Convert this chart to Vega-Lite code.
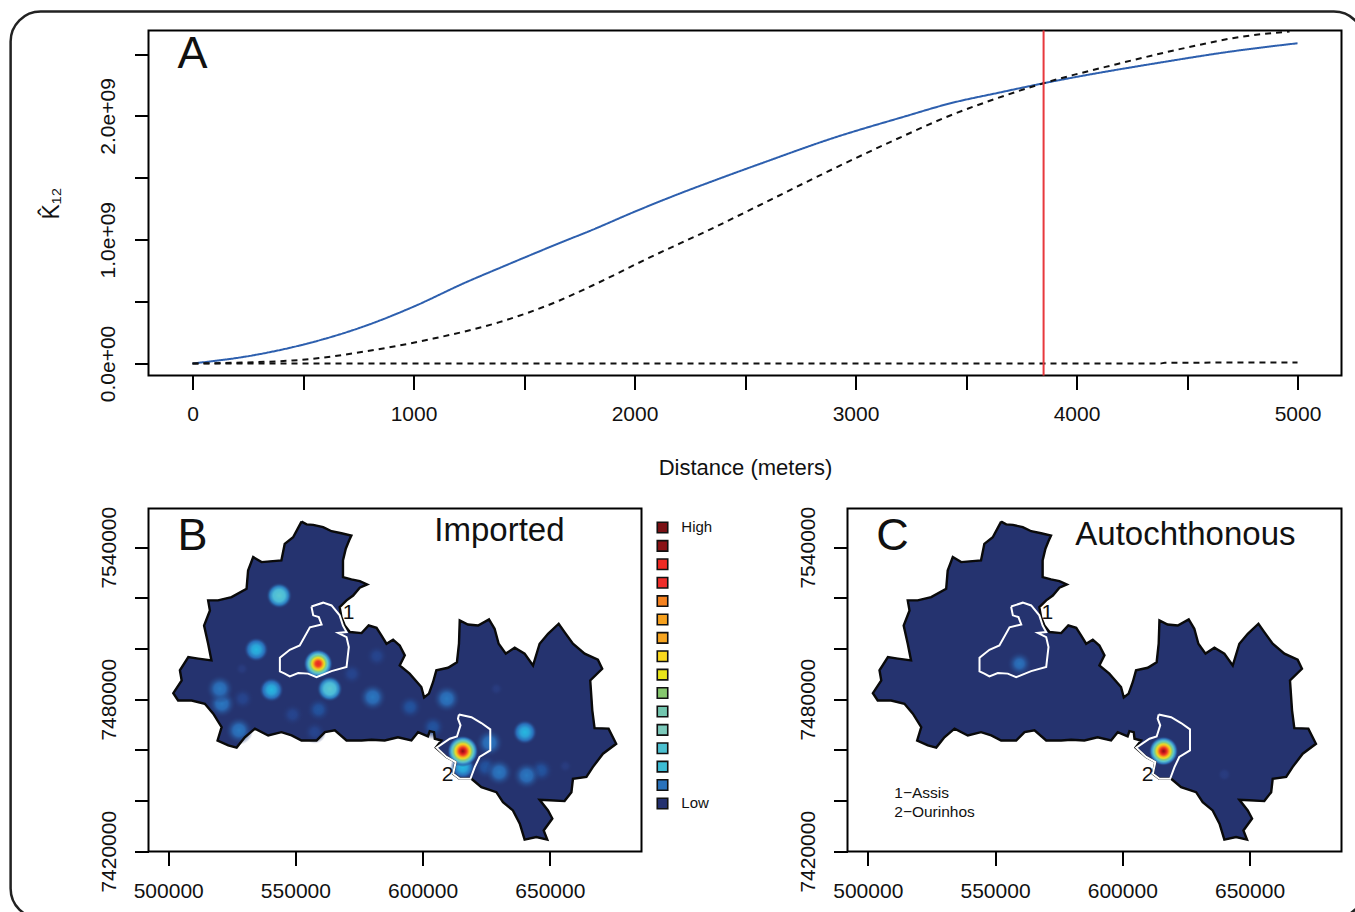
{
"$schema":"https://vega.github.io/schema/vega-lite/v6.json",
"padding":{"left":7.5,"top":8.5,"right":0,"bottom":0},
"background":"white",
"bounds":"flush",
"spacing":133,
"config":{
 "view":{"stroke":"black","strokeWidth":2},
 "font":"Liberation Sans",
 "axis":{"grid":false,"domain":false,"tickColor":"black","tickWidth":2,"tickSize":14,"labelFont":"Liberation Sans","labelFontSize":21,"labelColor":"#111","labelOverlap":false,"labelBound":false,"labelFlush":false,"titleFont":"Liberation Sans","titleFontWeight":"normal","titleColor":"#111"},
 "text":{"font":"Liberation Sans","color":"#111"}
},
"datasets":{
"boundary":[
{"i":1,"x":552400,"y":7550100},{"i":2,"x":554400,"y":7549000},{"i":3,"x":557000,"y":7548800},{"i":4,"x":560900,"y":7547900},{"i":5,"x":564200,"y":7546300},{"i":6,"x":568100,"y":7545500},{"i":7,"x":572000,"y":7544600},{"i":8,"x":571100,"y":7542600},{"i":9,"x":569800,"y":7539400},{"i":10,"x":568700,"y":7534800},{"i":11,"x":568700,"y":7528200},{"i":12,"x":572000,"y":7527300},{"i":13,"x":575300,"y":7526600},{"i":14,"x":578200,"y":7525300},{"i":15,"x":575300,"y":7524000},{"i":16,"x":572700,"y":7520900},{"i":17,"x":570100,"y":7519000},{"i":18,"x":567400,"y":7516300},{"i":19,"x":568100,"y":7512400},{"i":20,"x":569400,"y":7509100},{"i":21,"x":571400,"y":7506500},{"i":22,"x":576000,"y":7506100},{"i":23,"x":578800,"y":7509100},{"i":24,"x":581900,"y":7508200},{"i":25,"x":583800,"y":7505200},{"i":26,"x":585800,"y":7501900},{"i":27,"x":588400,"y":7503500},{"i":28,"x":591000,"y":7501200},{"i":29,"x":593000,"y":7497300},{"i":30,"x":591000,"y":7493300},{"i":31,"x":594900,"y":7490100},{"i":32,"x":599500,"y":7484800},{"i":33,"x":600600,"y":7480700},{"i":34,"x":602500,"y":7482200},{"i":35,"x":604100,"y":7486700},{"i":36,"x":605400,"y":7491400},{"i":37,"x":610000,"y":7492400},{"i":38,"x":613500,"y":7494600},{"i":39,"x":614300,"y":7501900},{"i":40,"x":614600,"y":7511100},{"i":41,"x":617800,"y":7509500},{"i":42,"x":621800,"y":7509100},{"i":43,"x":626100,"y":7511500},{"i":44,"x":628300,"y":7507800},{"i":45,"x":629900,"y":7501900},{"i":46,"x":632700,"y":7498000},{"i":47,"x":636200,"y":7500300},{"i":48,"x":640100,"y":7498000},{"i":49,"x":643400,"y":7493300},{"i":50,"x":646000,"y":7501900},{"i":51,"x":649300,"y":7505800},{"i":52,"x":653500,"y":7509800},{"i":53,"x":655800,"y":7506500},{"i":54,"x":659100,"y":7501900},{"i":55,"x":663700,"y":7498000},{"i":56,"x":668900,"y":7495600},{"i":57,"x":670600,"y":7492000},{"i":58,"x":665900,"y":7487400},{"i":59,"x":666700,"y":7475600},{"i":60,"x":667600,"y":7468600},{"i":61,"x":673100,"y":7468400},{"i":62,"x":676100,"y":7462400},{"i":63,"x":670900,"y":7458500},{"i":64,"x":666900,"y":7453200},{"i":65,"x":664400,"y":7449300},{"i":66,"x":659100,"y":7448600},{"i":67,"x":658500,"y":7443300},{"i":68,"x":655800,"y":7439800},{"i":69,"x":649900,"y":7440100},{"i":70,"x":646000,"y":7440300},{"i":71,"x":649300,"y":7436100},{"i":72,"x":651000,"y":7432900},{"i":73,"x":647600,"y":7428200},{"i":74,"x":649000,"y":7424600},{"i":75,"x":644700,"y":7425600},{"i":76,"x":640100,"y":7424600},{"i":77,"x":638200,"y":7430900},{"i":78,"x":635500,"y":7436100},{"i":79,"x":631600,"y":7439400},{"i":80,"x":629000,"y":7443300},{"i":81,"x":623100,"y":7445300},{"i":82,"x":619200,"y":7448600},{"i":83,"x":614600,"y":7448600},{"i":84,"x":612000,"y":7450600},{"i":85,"x":613000,"y":7455200},{"i":86,"x":609400,"y":7457200},{"i":87,"x":605200,"y":7460900},{"i":88,"x":607400,"y":7463700},{"i":89,"x":604800,"y":7464400},{"i":90,"x":604500,"y":7467000},{"i":91,"x":602800,"y":7467400},{"i":92,"x":602100,"y":7465300},{"i":93,"x":598200,"y":7467000},{"i":94,"x":595600,"y":7463700},{"i":95,"x":590300,"y":7465000},{"i":96,"x":585100,"y":7463700},{"i":97,"x":579900,"y":7464000},{"i":98,"x":576000,"y":7463700},{"i":99,"x":570100,"y":7463700},{"i":100,"x":565500,"y":7467700},{"i":101,"x":561600,"y":7467000},{"i":102,"x":558300,"y":7463700},{"i":103,"x":552400,"y":7463700},{"i":104,"x":548500,"y":7465700},{"i":105,"x":544500,"y":7467000},{"i":106,"x":539300,"y":7465700},{"i":107,"x":534100,"y":7468400},{"i":108,"x":530100,"y":7465000},{"i":109,"x":526900,"y":7460900},{"i":110,"x":523600,"y":7461800},{"i":111,"x":519400,"y":7463700},{"i":112,"x":521000,"y":7469000},{"i":113,"x":517700,"y":7474300},{"i":114,"x":514400,"y":7478200},{"i":115,"x":509200,"y":7479500},{"i":116,"x":503900,"y":7479500},{"i":117,"x":502000,"y":7482400},{"i":118,"x":505300,"y":7487400},{"i":119,"x":504600,"y":7491400},{"i":120,"x":507900,"y":7496600},{"i":121,"x":511800,"y":7496000},{"i":122,"x":517000,"y":7495300},{"i":123,"x":515700,"y":7501900},{"i":124,"x":514100,"y":7509100},{"i":125,"x":516400,"y":7515000},{"i":126,"x":515700,"y":7519000},{"i":127,"x":519600,"y":7519000},{"i":128,"x":524900,"y":7520300},{"i":129,"x":530800,"y":7523600},{"i":130,"x":531400,"y":7530800},{"i":131,"x":533400,"y":7536100},{"i":132,"x":536700,"y":7534100},{"i":133,"x":544500,"y":7534800},{"i":134,"x":545800,"y":7541300},{"i":135,"x":549100,"y":7543900},{"i":136,"x":552400,"y":7550100}
],
"towns":[
{"town":"Assis","i":1,"x":556300,"y":7516600},{"town":"Assis","i":2,"x":560900,"y":7518100},{"town":"Assis","i":3,"x":564200,"y":7517000},{"town":"Assis","i":4,"x":567400,"y":7513100},{"town":"Assis","i":5,"x":568700,"y":7509100},{"town":"Assis","i":6,"x":570100,"y":7506500},{"town":"Assis","i":7,"x":566800,"y":7506200},{"town":"Assis","i":8,"x":570100,"y":7504500},{"town":"Assis","i":9,"x":571000,"y":7500600},{"town":"Assis","i":10,"x":570100,"y":7492700},{"town":"Assis","i":11,"x":564200,"y":7491100},{"town":"Assis","i":12,"x":558300,"y":7488700},{"town":"Assis","i":13,"x":555000,"y":7490100},{"town":"Assis","i":14,"x":551100,"y":7490300},{"town":"Assis","i":15,"x":547800,"y":7489000},{"town":"Assis","i":16,"x":545800,"y":7490100},{"town":"Assis","i":17,"x":543900,"y":7491000},{"town":"Assis","i":18,"x":543900,"y":7496400},{"town":"Assis","i":19,"x":547800,"y":7499500},{"town":"Assis","i":20,"x":551700,"y":7501200},{"town":"Assis","i":21,"x":555700,"y":7508400},{"town":"Assis","i":22,"x":560300,"y":7509500},{"town":"Assis","i":23,"x":559200,"y":7512400},{"town":"Assis","i":24,"x":557000,"y":7513100},{"town":"Assis","i":25,"x":556300,"y":7516600},
{"town":"Ourinhos","i":1,"x":614300,"y":7474000},{"town":"Ourinhos","i":2,"x":619200,"y":7472900},{"town":"Ourinhos","i":3,"x":623100,"y":7470600},{"town":"Ourinhos","i":4,"x":626600,"y":7468100},{"town":"Ourinhos","i":5,"x":626600,"y":7459800},{"town":"Ourinhos","i":6,"x":622400,"y":7457200},{"town":"Ourinhos","i":7,"x":620500,"y":7453200},{"town":"Ourinhos","i":8,"x":618800,"y":7448600},{"town":"Ourinhos","i":9,"x":614600,"y":7448600},{"town":"Ourinhos","i":10,"x":612000,"y":7450600},{"town":"Ourinhos","i":11,"x":613000,"y":7455200},{"town":"Ourinhos","i":12,"x":609400,"y":7457200},{"town":"Ourinhos","i":13,"x":605500,"y":7460900},{"town":"Ourinhos","i":14,"x":610700,"y":7464400},{"town":"Ourinhos","i":15,"x":613500,"y":7465300},{"town":"Ourinhos","i":16,"x":614900,"y":7469700},{"town":"Ourinhos","i":17,"x":613900,"y":7472300},{"town":"Ourinhos","i":18,"x":614300,"y":7474000}
],
"hotspots":[
{"panel":"B","kind":"trace","x":529000,"y":7492000},{"panel":"B","kind":"trace","x":629000,"y":7484100},{"panel":"B","kind":"trace","x":656100,"y":7453600},
{"panel":"B","kind":"faint","x":529300,"y":7480200},{"panel":"B","kind":"faint","x":548900,"y":7473900},{"panel":"B","kind":"faint","x":557600,"y":7467000},{"panel":"B","kind":"faint","x":582000,"y":7497000},{"panel":"B","kind":"faint","x":572200,"y":7490000},
{"panel":"B","kind":"dark","x":595100,"y":7476900},{"panel":"B","kind":"dark","x":559100,"y":7475900},{"panel":"B","kind":"dark","x":604100,"y":7469000},{"panel":"B","kind":"dark","x":624800,"y":7453200},{"panel":"B","kind":"dark","x":646600,"y":7451900},
{"panel":"B","kind":"blue","x":521100,"y":7478200},{"panel":"B","kind":"blue","x":520300,"y":7484100},{"panel":"B","kind":"blue","x":527800,"y":7467700},{"panel":"B","kind":"blue","x":580400,"y":7480800},{"panel":"B","kind":"blue","x":609500,"y":7480200},{"panel":"B","kind":"blue","x":626300,"y":7462800},{"panel":"B","kind":"blue","x":630100,"y":7451200},{"panel":"B","kind":"blue","x":640900,"y":7449900},
{"panel":"B","kind":"teal","x":543600,"y":7520900},{"panel":"B","kind":"teal","x":563500,"y":7484100},
{"panel":"B","kind":"cyan","x":534600,"y":7499600},{"panel":"B","kind":"cyan","x":540600,"y":7483700},{"panel":"B","kind":"cyan","x":640200,"y":7467000},{"panel":"B","kind":"cyan","x":615800,"y":7453200},
{"panel":"B","kind":"warm","x":558950,"y":7494000},{"panel":"B","kind":"hot","x":615800,"y":7459500},
{"panel":"C","kind":"trace","x":640100,"y":7450300},{"panel":"C","kind":"blue","x":559600,"y":7494000},{"panel":"C","kind":"hot","x":616200,"y":7459500}
],
"levels":[{"level":16,"x":694300,"y":7547770},{"level":15,"x":694300,"y":7540510},{"level":14,"x":694300,"y":7533250},{"level":13,"x":694300,"y":7525990},{"level":12,"x":694300,"y":7518730},{"level":11,"x":694300,"y":7511470},{"level":10,"x":694300,"y":7504210},{"level":9,"x":694300,"y":7496950},{"level":8,"x":694300,"y":7489690},{"level":7,"x":694300,"y":7482430},{"level":6,"x":694300,"y":7475170},{"level":5,"x":694300,"y":7467910},{"level":4,"x":694300,"y":7460650},{"level":3,"x":694300,"y":7453390},{"level":2,"x":694300,"y":7446130},{"level":1,"x":694300,"y":7438870}]
},
"vconcat":[
{
 "width":1193,"height":345,
 "layer":[
  {"data":{"values":[{"x":-823,"x2":5300,"y":2843000000,"y2":-4483000000}]},
   "mark":{"type":"rect","filled":false,"stroke":"#222","strokeWidth":2.5,"cornerRadius":30,"clip":false},
   "encoding":{
    "x":{"field":"x","type":"quantitative","scale":{"domain":[-199.1,5199],"nice":false,"zero":false},
     "axis":{"values":[0,500,1000,1500,2000,2500,3000,3500,4000,4500,5000],"format":"d","labelExpr":"datum.value%1000==0?datum.label:''","labelPadding":14,"title":"Distance (meters)","titleFontSize":22,"titlePadding":33}},
    "x2":{"field":"x2"},
    "y":{"field":"y","type":"quantitative","scale":{"domain":[-97000000,2690000000],"nice":false,"zero":false},
     "axis":{"values":[0,500000000,1000000000,1500000000,2000000000,2500000000],"labelExpr":"datum.value==0?'0.0e+00':datum.value==1000000000?'1.0e+09':datum.value==2000000000?'2.0e+09':''","labelAngle":-90,"labelPadding":16,"title":"K̂₁₂","titleFontSize":23,"titlePadding":34}},
    "y2":{"field":"y2"}}},
  {"data":{"values":[
   {"series":"observed","x":0,"y":0},{"series":"observed","x":271,"y":65000000},{"series":"observed","x":484,"y":145000000},{"series":"observed","x":787,"y":307000000},{"series":"observed","x":995,"y":455000000},{"series":"observed","x":1240,"y":658000000},{"series":"observed","x":1389,"y":771000000},{"series":"observed","x":1661,"y":973000000},{"series":"observed","x":1810,"y":1080000000},{"series":"observed","x":1995,"y":1222000000},{"series":"observed","x":2186,"y":1360000000},{"series":"observed","x":2385,"y":1494000000},{"series":"observed","x":2579,"y":1620000000},{"series":"observed","x":2900,"y":1822000000},{"series":"observed","x":3222,"y":1995000000},{"series":"observed","x":3425,"y":2100000000},{"series":"observed","x":3652,"y":2189000000},{"series":"observed","x":3851,"y":2264000000},{"series":"observed","x":4389,"y":2434000000},{"series":"observed","x":4710,"y":2523000000},{"series":"observed","x":5000,"y":2587000000},
   {"series":"upper","x":0,"y":0},{"series":"upper","x":452,"y":24000000},{"series":"upper","x":787,"y":99000000},{"series":"upper","x":1086,"y":200000000},{"series":"upper","x":1389,"y":334000000},{"series":"upper","x":1661,"y":509000000},{"series":"upper","x":1810,"y":630000000},{"series":"upper","x":2072,"y":859000000},{"series":"upper","x":2348,"y":1088000000},{"series":"upper","x":2624,"y":1330000000},{"series":"upper","x":2900,"y":1573000000},{"series":"upper","x":3222,"y":1842000000},{"series":"upper","x":3403,"y":1985000000},{"series":"upper","x":3633,"y":2138000000},{"series":"upper","x":3851,"y":2264000000},{"series":"upper","x":4186,"y":2420000000},{"series":"upper","x":4507,"y":2555000000},{"series":"upper","x":4733,"y":2636000000},{"series":"upper","x":4964,"y":2682000000},
   {"series":"lower","x":0,"y":0},{"series":"lower","x":2000,"y":0},{"series":"lower","x":4380,"y":0},{"series":"lower","x":4400,"y":6000000},{"series":"lower","x":5000,"y":8000000}
   ]},
   "mark":{"type":"line","strokeWidth":2,"interpolate":"monotone"},
   "encoding":{
    "x":{"field":"x","type":"quantitative"},
    "y":{"field":"y","type":"quantitative"},
    "color":{"field":"series","type":"nominal","legend":null,"scale":{"domain":["observed","upper","lower"],"range":["#2d5fae","#111111","#111111"]}},
    "strokeDash":{"field":"series","type":"nominal","legend":null,"scale":{"domain":["observed","upper","lower"],"range":[[1,0],[6,5],[6,5]]}}}},
  {"data":{"values":[{"x":3851}]},
   "mark":{"type":"rule","color":"#e8383d","strokeWidth":2},
   "encoding":{"x":{"field":"x","type":"quantitative"}}},
  {"data":{"values":[{"x":0,"y":2504000000,"label":"A"}]},
   "mark":{"type":"text","fontSize":45,"align":"center","baseline":"middle"},
   "encoding":{"x":{"field":"x","type":"quantitative"},"y":{"field":"y","type":"quantitative"},"text":{"field":"label"}}}
 ]
},
{
 "bounds":"flush",
 "spacing":206,
 "hconcat":[
 {
  "width":493,"height":343,
  "encoding":{
    "x":{"field":"x","type":"quantitative","scale":{"domain":[492256,686046],"nice":false,"zero":false},"axis":{"values":[500000,550000,600000,650000],"format":"d","labelPadding":15,"title":null}},
    "y":{"field":"y","type":"quantitative","scale":{"domain":[7419900,7555266],"nice":false,"zero":false},"axis":{"values":[7420000,7440000,7460000,7480000,7500000,7520000,7540000],"format":"d","labelExpr":"(datum.value==7420000||datum.value==7480000||datum.value==7540000)?datum.label:''","labelAngle":-90,"labelPadding":15,"title":null}}
  },
  "layer":[
   {"data":{"name":"levels"},"mark":{"type":"square","filled":true,"size":110,"stroke":"#111","strokeWidth":1.6,"opacity":1,"clip":false},
    "encoding":{"fill":{"field":"level","type":"ordinal","legend":null,
     "scale":{"domain":[16,15,14,13,12,11,10,9,8,7,6,5,4,3,2,1],"range":["#7a1014","#8a1216","#ee2a24","#ee2d2a","#f58220","#f5a01e","#f7a521","#fbd91e","#e8e51a","#86c86e","#72c5ae","#7ccabb","#4cc0d0","#3cbcd4","#2a72bb","#23306f"]}}}},
   {"data":{"values":[{"x":701700,"y":7547770,"label":"High"},{"x":701700,"y":7438870,"label":"Low"}]},"mark":{"type":"text","fontSize":15,"align":"left","baseline":"middle","clip":false},"encoding":{"text":{"field":"label"}}},
   {"data":{"name":"boundary"},"mark":{"type":"line","fill":"#25336f","stroke":"#25336f","strokeWidth":1},"encoding":{"order":{"field":"i","type":"quantitative"}}},
   {"data":{"name":"hotspots"},"transform":[{"filter":"datum.panel=='B'&&datum.kind=='trace'"}],"mark":{"type":"point","filled":true,"opacity":1,"size":200,"fill":{"gradient":"radial","x1":0.5,"y1":0.5,"x2":0.5,"y2":0.5,"r1":0,"r2":0.5,"stops":[{"offset":0,"color":"#293c80"},{"offset":0.4,"color":"#283a7c"},{"offset":1,"color":"rgba(37,51,111,0)"}]}}},
   {"data":{"name":"hotspots"},"transform":[{"filter":"datum.panel=='B'&&datum.kind=='faint'"}],"mark":{"type":"point","filled":true,"opacity":1,"size":520,"fill":{"gradient":"radial","x1":0.5,"y1":0.5,"x2":0.5,"y2":0.5,"r1":0,"r2":0.5,"stops":[{"offset":0,"color":"#26458f"},{"offset":0.35,"color":"#264289"},{"offset":1,"color":"rgba(37,51,111,0)"}]}}},
   {"data":{"name":"hotspots"},"transform":[{"filter":"datum.panel=='B'&&datum.kind=='dark'"}],"mark":{"type":"point","filled":true,"opacity":1,"size":620,"fill":{"gradient":"radial","x1":0.5,"y1":0.5,"x2":0.5,"y2":0.5,"r1":0,"r2":0.5,"stops":[{"offset":0,"color":"#22559f"},{"offset":0.35,"color":"#234e98"},{"offset":1,"color":"rgba(37,51,111,0)"}]}}},
   {"data":{"name":"hotspots"},"transform":[{"filter":"datum.panel=='B'&&datum.kind=='blue'"}],"mark":{"type":"point","filled":true,"opacity":1,"size":820,"fill":{"gradient":"radial","x1":0.5,"y1":0.5,"x2":0.5,"y2":0.5,"r1":0,"r2":0.5,"stops":[{"offset":0,"color":"#2a78c0"},{"offset":0.4,"color":"#2a69b3"},{"offset":1,"color":"rgba(37,51,111,0)"}]}}},
   {"data":{"name":"hotspots"},"transform":[{"filter":"datum.panel=='B'&&datum.kind=='teal'"}],"mark":{"type":"point","filled":true,"opacity":1,"size":680,"fill":{"gradient":"radial","x1":0.5,"y1":0.5,"x2":0.5,"y2":0.5,"r1":0,"r2":0.5,"stops":[{"offset":0,"color":"#5cc8d0"},{"offset":0.45,"color":"#4cbcd8"},{"offset":0.72,"color":"#2b7cc0"},{"offset":1,"color":"rgba(37,51,111,0)"}]}}},
   {"data":{"name":"hotspots"},"transform":[{"filter":"datum.panel=='B'&&datum.kind=='cyan'"}],"mark":{"type":"point","filled":true,"opacity":1,"size":620,"fill":{"gradient":"radial","x1":0.5,"y1":0.5,"x2":0.5,"y2":0.5,"r1":0,"r2":0.5,"stops":[{"offset":0,"color":"#25b8e0"},{"offset":0.35,"color":"#2ba4d8"},{"offset":0.68,"color":"#2a6cb8"},{"offset":1,"color":"rgba(37,51,111,0)"}]}}},
   {"data":{"name":"hotspots"},"transform":[{"filter":"datum.panel=='B'&&datum.kind=='warm'"}],"mark":{"type":"point","filled":true,"opacity":1,"size":860,"fill":{"gradient":"radial","x1":0.5,"y1":0.5,"x2":0.5,"y2":0.5,"r1":0,"r2":0.5,"stops":[{"offset":0,"color":"#e8261f"},{"offset":0.18,"color":"#ef3b24"},{"offset":0.32,"color":"#f7a520"},{"offset":0.42,"color":"#e9e020"},{"offset":0.52,"color":"#8ccb78"},{"offset":0.65,"color":"#5cc7cf"},{"offset":0.82,"color":"#2f78c0"},{"offset":1,"color":"rgba(37,51,111,0)"}]}}},
   {"data":{"name":"hotspots"},"transform":[{"filter":"datum.panel=='B'&&datum.kind=='hot'"}],"mark":{"type":"point","filled":true,"opacity":1,"size":960,"fill":{"gradient":"radial","x1":0.5,"y1":0.5,"x2":0.5,"y2":0.5,"r1":0,"r2":0.5,"stops":[{"offset":0,"color":"#7f0f14"},{"offset":0.13,"color":"#c8151b"},{"offset":0.25,"color":"#ef3b24"},{"offset":0.38,"color":"#f7a520"},{"offset":0.48,"color":"#f0e020"},{"offset":0.58,"color":"#8ccb78"},{"offset":0.7,"color":"#5cc7cf"},{"offset":0.85,"color":"#2f78c0"},{"offset":1,"color":"rgba(37,51,111,0)"}]}}},
   {"data":{"name":"boundary"},"mark":{"type":"line","stroke":"#0a0a0a","strokeWidth":2.4},"encoding":{"order":{"field":"i","type":"quantitative"}}},
   {"data":{"name":"towns"},"mark":{"type":"line","stroke":"white","strokeWidth":2},"encoding":{"detail":{"field":"town"},"order":{"field":"i","type":"quantitative"}}},
   {"data":{"values":[{"x":509550,"y":7544600,"label":"B"}]},"mark":{"type":"text","fontSize":45,"align":"center","baseline":"middle"},"encoding":{"text":{"field":"label"}}},
   {"data":{"values":[{"x":630200,"y":7546200,"label":"Imported"}]},"mark":{"type":"text","fontSize":33,"align":"center","baseline":"middle"},"encoding":{"text":{"field":"label"}}},
   {"data":{"values":[{"x":570900,"y":7514200,"label":"1"},{"x":609800,"y":7449900,"label":"2"}]},"mark":{"type":"text","fontSize":21,"align":"center","baseline":"middle"},"encoding":{"text":{"field":"label"}}}
  ]
 },
 {
  "width":494,"height":343,
  "encoding":{
    "x":{"field":"x","type":"quantitative","scale":{"domain":[492027,686135],"nice":false,"zero":false},"axis":{"values":[500000,550000,600000,650000],"format":"d","labelPadding":15,"title":null}},
    "y":{"field":"y","type":"quantitative","scale":{"domain":[7419900,7555266],"nice":false,"zero":false},"axis":{"values":[7420000,7440000,7460000,7480000,7500000,7520000,7540000],"format":"d","labelExpr":"(datum.value==7420000||datum.value==7480000||datum.value==7540000)?datum.label:''","labelAngle":-90,"labelPadding":15,"title":null}}
  },
  "layer":[
   {"data":{"name":"boundary"},"mark":{"type":"line","fill":"#25336f","stroke":"#25336f","strokeWidth":1},"encoding":{"order":{"field":"i","type":"quantitative"}}},
   {"data":{"name":"hotspots"},"transform":[{"filter":"datum.panel=='C'&&datum.kind=='trace'"}],"mark":{"type":"point","filled":true,"opacity":1,"size":200,"fill":{"gradient":"radial","x1":0.5,"y1":0.5,"x2":0.5,"y2":0.5,"r1":0,"r2":0.5,"stops":[{"offset":0,"color":"#293c80"},{"offset":0.5,"color":"#283a7c"},{"offset":1,"color":"rgba(37,51,111,0)"}]}}},
   {"data":{"name":"hotspots"},"transform":[{"filter":"datum.panel=='C'&&datum.kind=='blue'"}],"mark":{"type":"point","filled":true,"opacity":1,"size":640,"fill":{"gradient":"radial","x1":0.5,"y1":0.5,"x2":0.5,"y2":0.5,"r1":0,"r2":0.5,"stops":[{"offset":0,"color":"#2a74bc"},{"offset":0.35,"color":"#2a66b0"},{"offset":1,"color":"rgba(37,51,111,0)"}]}}},
   {"data":{"name":"hotspots"},"transform":[{"filter":"datum.panel=='C'&&datum.kind=='hot'"}],"mark":{"type":"point","filled":true,"opacity":1,"size":860,"fill":{"gradient":"radial","x1":0.5,"y1":0.5,"x2":0.5,"y2":0.5,"r1":0,"r2":0.5,"stops":[{"offset":0,"color":"#7f0f14"},{"offset":0.13,"color":"#c8151b"},{"offset":0.25,"color":"#ef3b24"},{"offset":0.38,"color":"#f7a520"},{"offset":0.48,"color":"#f0e020"},{"offset":0.58,"color":"#8ccb78"},{"offset":0.7,"color":"#5cc7cf"},{"offset":0.85,"color":"#2f78c0"},{"offset":1,"color":"rgba(37,51,111,0)"}]}}},
   {"data":{"name":"boundary"},"mark":{"type":"line","stroke":"#0a0a0a","strokeWidth":2.4},"encoding":{"order":{"field":"i","type":"quantitative"}}},
   {"data":{"name":"towns"},"mark":{"type":"line","stroke":"white","strokeWidth":2},"encoding":{"detail":{"field":"town"},"order":{"field":"i","type":"quantitative"}}},
   {"data":{"values":[{"x":509700,"y":7544600,"label":"C"}]},"mark":{"type":"text","fontSize":45,"align":"center","baseline":"middle"},"encoding":{"text":{"field":"label"}}},
   {"data":{"values":[{"x":624800,"y":7545000,"label":"Autochthonous"}]},"mark":{"type":"text","fontSize":33,"align":"center","baseline":"middle"},"encoding":{"text":{"field":"label"}}},
   {"data":{"values":[{"x":570600,"y":7514200,"label":"1"},{"x":609900,"y":7449900,"label":"2"}]},"mark":{"type":"text","fontSize":21,"align":"center","baseline":"middle"},"encoding":{"text":{"field":"label"}}},
   {"data":{"values":[{"x":510400,"y":7442900,"label":"1−Assis"},{"x":510400,"y":7435400,"label":"2−Ourinhos"}]},"mark":{"type":"text","fontSize":15.5,"align":"left","baseline":"middle"},"encoding":{"text":{"field":"label"}}}
  ]
 }
 ]
}
]
}
